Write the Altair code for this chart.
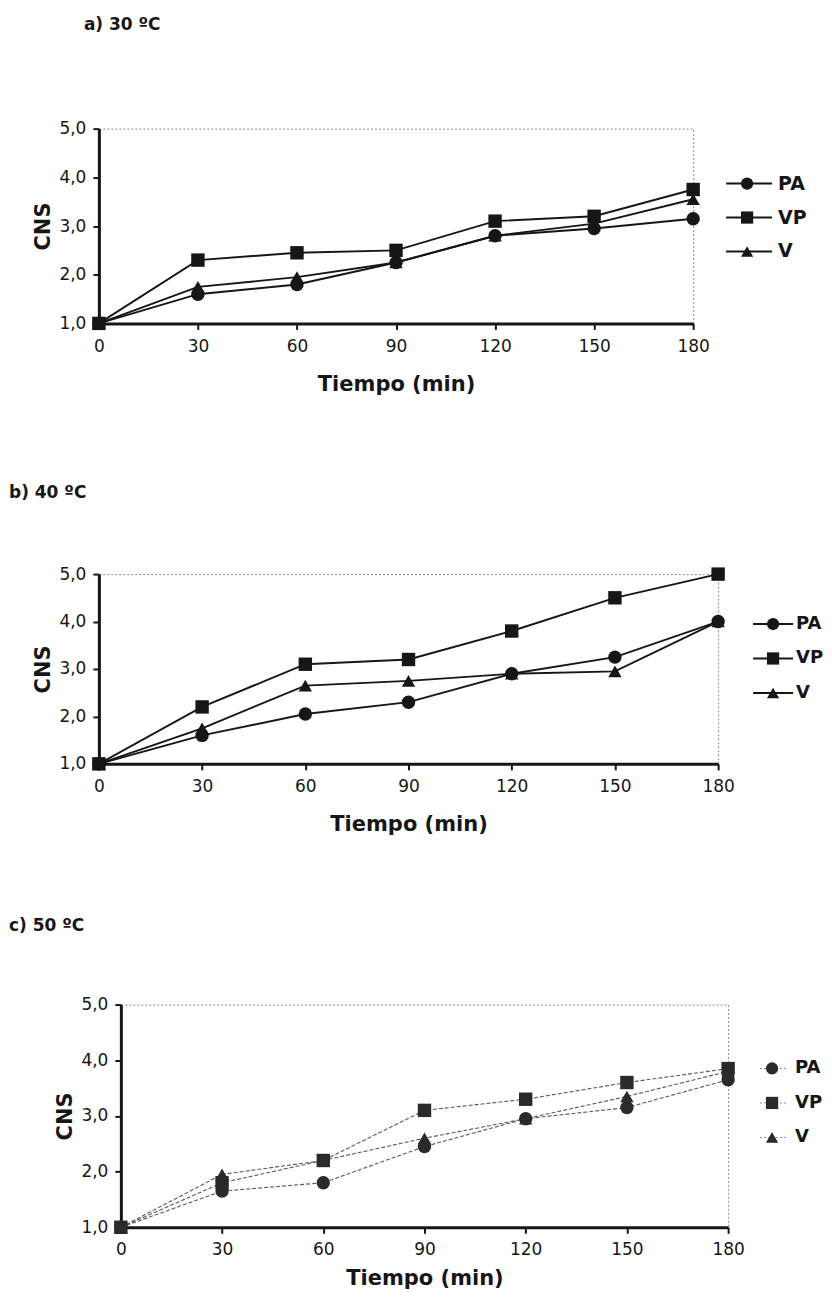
import altair as alt
import pandas as pd

tiempo = [0, 30, 60, 90, 120, 150, 180]
series = ["PA", "VP", "V"]
y_ticks = [1, 2, 3, 4, 5]

# a) 30 ºC
a_pa = [1.0, 1.6, 1.8, 2.25, 2.8, 2.95, 3.15]
a_vp = [1.0, 2.3, 2.45, 2.5, 3.1, 3.2, 3.75]
a_v = [1.0, 1.75, 1.95, 2.25, 2.8, 3.05, 3.55]

# b) 40 ºC
b_pa = [1.0, 1.6, 2.05, 2.3, 2.9, 3.25, 4.0]
b_vp = [1.0, 2.2, 3.1, 3.2, 3.8, 4.5, 5.0]
b_v = [1.0, 1.75, 2.65, 2.75, 2.9, 2.95, 4.0]

# c) 50 ºC
c_pa = [1.0, 1.65, 1.8, 2.45, 2.95, 3.15, 3.65]
c_vp = [1.0, 1.8, 2.2, 3.1, 3.3, 3.6, 3.85]
c_v = [1.0, 1.95, 2.2, 2.6, 2.95, 3.35, 3.8]

FONT = "DejaVu Sans"
INK = "#161616"
shape_scale = alt.Scale(domain=series, range=["circle", "square", "triangle-up"])


def panel(pa, vp, v, width, height, faint, subtitle, sub_pos, leg,
          title_pad=19, label_pad=9, top_anchor=None):
    rows = []
    for s, vals in zip(series, [pa, vp, v]):
        for t, c in zip(tiempo, vals):
            rows.append({"Tiempo": t, "CNS": c, "Serie": s})
    df = pd.DataFrame(rows)

    x = alt.X(
        "Tiempo:Q",
        scale=alt.Scale(domain=[0, 180], nice=False, zero=False),
        axis=alt.Axis(values=tiempo, title="Tiempo (min)", grid=False, labelFlush=False,
                      labelFontSize=17, labelFont=FONT, labelColor=INK,
                      labelPadding=label_pad, tickSize=6, tickWidth=2, tickColor=INK,
                      domainWidth=3, domainColor=INK,
                      titleFont=FONT, titleFontSize=21, titleFontWeight="bold",
                      titlePadding=title_pad, titleColor=INK),
    )
    y = alt.Y(
        "CNS:Q",
        scale=alt.Scale(domain=[1, 5], nice=False, zero=False),
        axis=alt.Axis(values=y_ticks, title="CNS", grid=False, labelFlush=False,
                      labelExpr="replace(format(datum.value, '.1f'), '.', ',')",
                      labelFontSize=17, labelFont=FONT, labelColor=INK,
                      labelPadding=7, tickSize=6, tickWidth=2, tickColor=INK,
                      domainWidth=3, domainColor=INK,
                      titleFont=FONT, titleFontSize=21, titleFontWeight="bold",
                      titlePadding=5, titleColor=INK),
    )

    if faint:
        line_mark = dict(color="#5a5a5a", strokeWidth=1.1, strokeDash=[4, 2])
        pt_color = "#2a2a2a"
    else:
        line_mark = dict(color=INK, strokeWidth=1.9)
        pt_color = INK

    line = alt.Chart(df).mark_line(**line_mark).encode(x=x, y=y, detail="Serie:N")
    pts = alt.Chart(df).mark_point(filled=True, color=pt_color, opacity=1, size=180).encode(
        x=x, y=y, shape=alt.Shape("Serie:N", scale=shape_scale, legend=None)
    )
    data_layer = alt.layer(line, pts)

    # legend rows: row index of each series mapped onto the legend's vertical span
    ldf = pd.DataFrame({"Serie": series})
    ly = alt.Y("fila:Q",
               scale=alt.Scale(domain=[0, 2], range=leg["y"], nice=False, zero=False),
               axis=None)
    lbase = alt.Chart(ldf).transform_calculate(
        fila="indexof(['PA', 'VP', 'V'], datum.Serie)"
    )
    if faint:
        rule_mark = dict(color="#888", strokeWidth=1, strokeDash=[2, 2])
    else:
        rule_mark = dict(color=INK, strokeWidth=1.9)
    l_rule = lbase.mark_rule(**rule_mark).encode(
        x=alt.value(leg["x0"]), x2=alt.value(leg["x1"]), y=ly
    )
    l_pt = lbase.mark_point(filled=True, color=pt_color, opacity=1, size=150).encode(
        x=alt.value(leg["xm"]), y=ly, shape=alt.Shape("Serie:N", scale=shape_scale, legend=None)
    )
    l_tx = lbase.mark_text(align="left", baseline="middle", font=FONT,
                           fontSize=leg.get("fs", 19), fontWeight="bold", color=INK).encode(
        x=alt.value(leg["xt"]), y=ly, text="Serie:N"
    )
    legend_layer = alt.layer(l_rule, l_pt, l_tx)

    sub = alt.Chart(pd.DataFrame({"t": [subtitle]})).mark_text(
        align="left", baseline="middle", font=FONT, fontSize=17, fontWeight="bold", color=INK
    ).encode(x=alt.value(sub_pos[0]), y=alt.value(sub_pos[1]), text="t:N")

    layers = [data_layer, legend_layer, sub]
    if top_anchor is not None:
        anc = alt.Chart(pd.DataFrame({"a": [0]})).mark_rule(strokeOpacity=0, strokeWidth=1).encode(
            x=alt.value(top_anchor[0]), x2=alt.value(top_anchor[0]),
            y=alt.value(top_anchor[1]), y2=alt.value(top_anchor[1] + 5)
        )
        layers.append(anc)

    return alt.layer(*layers).resolve_scale(y="independent").properties(
        width=width, height=height
    )


pa_ = panel(a_pa, a_vp, a_v, 595, 195, False, "a) 30 ºC", (-15, -104),
            dict(y=[55, 123], x0=628, x1=674, xm=649, xt=680), top_anchor=(-90, -119))
pb_ = panel(b_pa, b_vp, b_v, 620, 190, False, "b) 40 ºC", (-90, -81),
            dict(y=[50, 119], x0=655, x1=695, xm=675, xt=698, fs=18))
pc_ = panel(c_pa, c_vp, c_v, 608, 223, True, "c) 50 ºC", (-112, -79),
            dict(y=[64, 133], x0=640, x1=667, xm=652, xt=675, fs=18),
            title_pad=10, label_pad=8)

spacer = alt.Chart(pd.DataFrame({"a": [0]})).mark_point(opacity=0).encode(
    x=alt.value(0), y=alt.value(0)
).properties(width=22, height=10, view=alt.ViewBackground(strokeOpacity=0))

row_c = alt.hconcat(spacer, pc_, spacing=0, bounds="flush")
lower = alt.vconcat(pb_, row_c, spacing=241, bounds="flush")

chart = alt.vconcat(pa_, lower, spacing=251, bounds="flush").properties(
    padding=0, background="white"
).configure_view(stroke="#8a8a8a", strokeWidth=1, strokeDash=[2, 2])

chart.save("out.html", embed_options={"renderer": "svg", "actions": False})
